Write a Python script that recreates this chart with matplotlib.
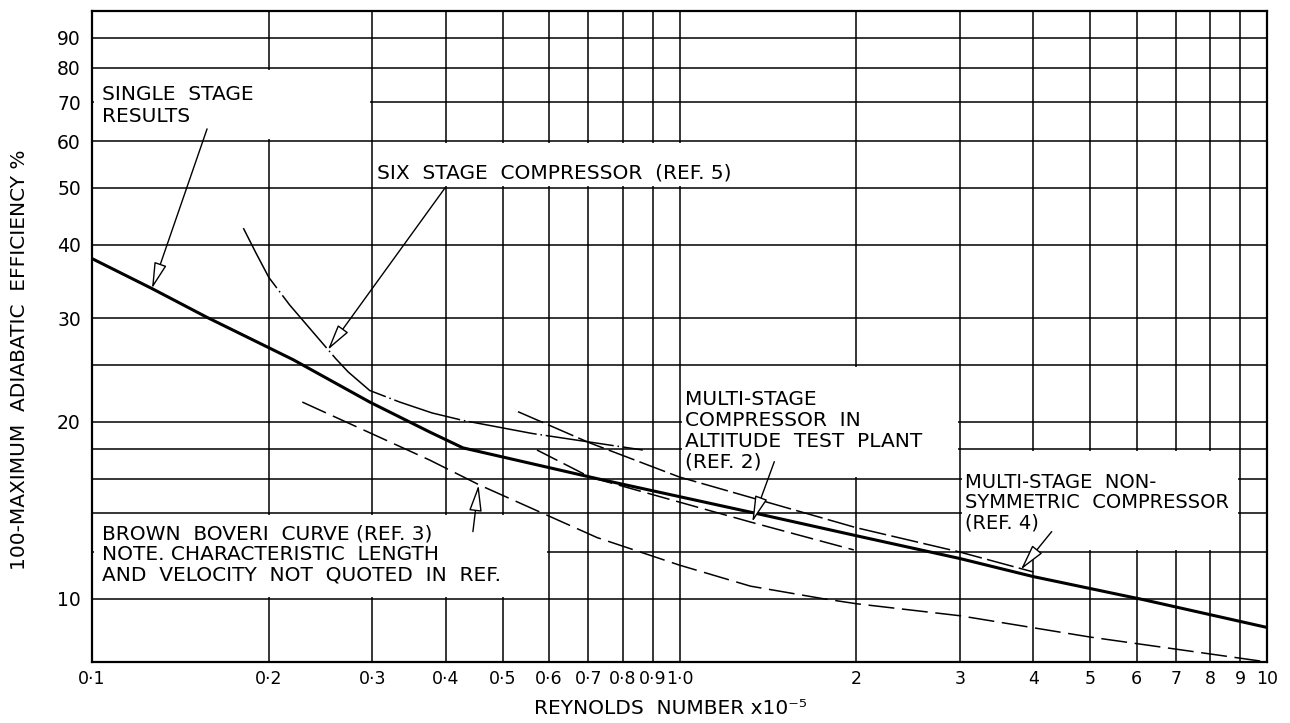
import matplotlib
matplotlib.use("Agg")
import matplotlib.pyplot as plt
from matplotlib.patches import Rectangle

# Reynolds number (x 10^-5) against 100 - maximum adiabatic efficiency (%)
single_re = [0.1, 0.1265, 0.157, 0.22, 0.297, 0.376, 0.428, 0.724, 1.334, 2.03, 3.0, 4.0, 6.15, 10.0]
single_loss = [37.9, 33.7, 30.1, 25.5, 21.6, 19.2, 18.05, 16.0, 14.0, 12.75, 11.7, 10.9, 9.96, 8.93]

six_re = [0.181, 0.19, 0.2, 0.217, 0.24, 0.26, 0.273, 0.297, 0.334, 0.379, 0.428, 0.561, 0.866]
six_loss = [42.7, 38.8, 35.2, 31.6, 28.1, 25.6, 24.3, 22.6, 21.6, 20.7, 20.1, 19.1, 17.9]

ref4_re = [0.531, 0.704, 1.0, 2.0, 3.0, 4.0]
ref4_loss = [20.8, 18.4, 16.1, 13.2, 12.0, 11.1]

ref2_re = [0.572, 0.704, 1.32, 1.98]
ref2_loss = [17.9, 16.1, 13.5, 12.1]

bb_re = [0.228, 0.376, 0.457, 0.724, 1.0, 1.32, 1.75, 2.0, 3.0, 5.0, 10.0]
bb_loss = [21.6, 17.2, 15.6, 12.7, 11.4, 10.5, 10.0, 9.8, 9.35, 8.6, 7.8]

x_ticks = [0.1, 0.2, 0.3, 0.4, 0.5, 0.6, 0.7, 0.8, 0.9, 1.0, 2, 3, 4, 5, 6, 7, 8, 9, 10]
x_labels = ["0·1", "0·2", "0·3", "0·4", "0·5", "0·6", "0·7", "0·8", "0·9", "1·0",
            "2", "3", "4", "5", "6", "7", "8", "9", "10"]
y_ticks = [10, 20, 30, 40, 50, 60, 70, 80, 90]
y_minor = [12, 14, 16, 18, 25]

plt.rcParams["font.family"] = ["DejaVu Sans"]

fig = plt.figure(figsize=(12.9, 7.23), dpi=100)
ax = fig.add_axes([0.0713, 0.0844, 0.9109, 0.9004])
ax.set_xscale("log")
ax.set_yscale("log")
ax.set_xlim(0.1, 10)
ax.set_ylim(7.8, 100)

ax.set_xticks(x_ticks)
ax.set_xticklabels(x_labels)
ax.set_xticks([], minor=True)
ax.set_yticks(y_ticks)
ax.set_yticklabels([str(v) for v in y_ticks])
ax.set_yticks(y_minor, minor=True)
ax.set_yticklabels([], minor=True)
ax.tick_params(which="both", length=0)
ax.tick_params(axis="x", labelsize=12.5, pad=6)
ax.tick_params(axis="y", labelsize=13.5, pad=8)
ax.set_axisbelow(True)
ax.grid(True, which="both", color="black", lw=1.1)
for s in ax.spines.values():
    s.set_linewidth(1.6)

# blank label panels cut out of the grid
panels = [(0.1, 60, 0.3, 80), (0.3, 50, 2.0, 60), (0.1, 10, 0.6, 14),
          (1.0, 16, 3.0, 25), (3.0, 12, 9.0, 18)]
k = 1.008
for x0, y0, x1, y1 in panels:
    ax.add_patch(Rectangle((x0 * k, y0 * k), x1 / k - x0 * k, y1 / k - y0 * k,
                           facecolor="white", edgecolor="none", zorder=1))

ax.plot(single_re, single_loss, color="black", lw=2.2, zorder=3)
ax.plot(six_re, six_loss, color="black", lw=1.1, dashes=(45, 2.5, 1, 2.5), zorder=3)
ax.plot(ref4_re, ref4_loss, color="black", lw=1.1, dashes=(18, 3.5), zorder=3)
ax.plot(ref2_re, ref2_loss, color="black", lw=1.1, dashes=(15, 4.5), zorder=3)
ax.plot(bb_re, bb_loss, color="black", lw=1.1, dashes=(17, 5), zorder=3)

fs = 14.5
ax.text(0.104, 69, "SINGLE  STAGE\nRESULTS", fontsize=fs, va="center", ha="left",
        linespacing=1.19, zorder=4)
ax.text(0.306, 53, "SIX  STAGE  COMPRESSOR  (REF. 5)", fontsize=fs, va="center",
        ha="left", zorder=4)
ax.text(0.104, 11.9, "BROWN  BOVERI  CURVE (REF. 3)\nNOTE. CHARACTERISTIC  LENGTH\n"
        "AND  VELOCITY  NOT  QUOTED  IN  REF.", fontsize=fs, va="center", ha="left",
        linespacing=1.09, zorder=4)
ax.text(1.02, 19.3, "MULTI-STAGE\nCOMPRESSOR  IN\nALTITUDE  TEST  PLANT\n(REF. 2)",
        fontsize=fs, va="center", ha="left", linespacing=1.12, zorder=4)
ax.text(3.06, 14.55, "MULTI-STAGE  NON-\nSYMMETRIC  COMPRESSOR\n(REF. 4)",
        fontsize=fs - 0.5, va="center", ha="left", linespacing=1.1, zorder=4)

arrow = dict(arrowstyle="-|>,head_length=0.9,head_width=0.22", fc="white",
             ec="black", lw=1.0, shrinkA=0, shrinkB=0, mutation_scale=18)
pointers = [((0.157, 63.0), (0.1265, 33.7)),
            ((0.399, 50.0), (0.252, 26.5)),
            ((0.445, 13.0), (0.455, 15.6)),
            ((1.45, 17.1), (1.33, 13.5)),
            ((4.3, 13.0), (3.81, 11.2))]
for tail, tip in pointers:
    ax.annotate("", xy=tip, xytext=tail, arrowprops=arrow, zorder=5)

fig.text(20 / 1290, 1 - 360 / 723, "100-MAXIMUM  ADIABATIC  EFFICIENCY %",
         fontsize=14.5, rotation=90, ha="center", va="center")
ax.text(0.492, -0.071, "REYNOLDS  NUMBER x10⁻⁵", fontsize=14.5, ha="center",
        va="center", transform=ax.transAxes)

fig.savefig("out.png", dpi=100)
